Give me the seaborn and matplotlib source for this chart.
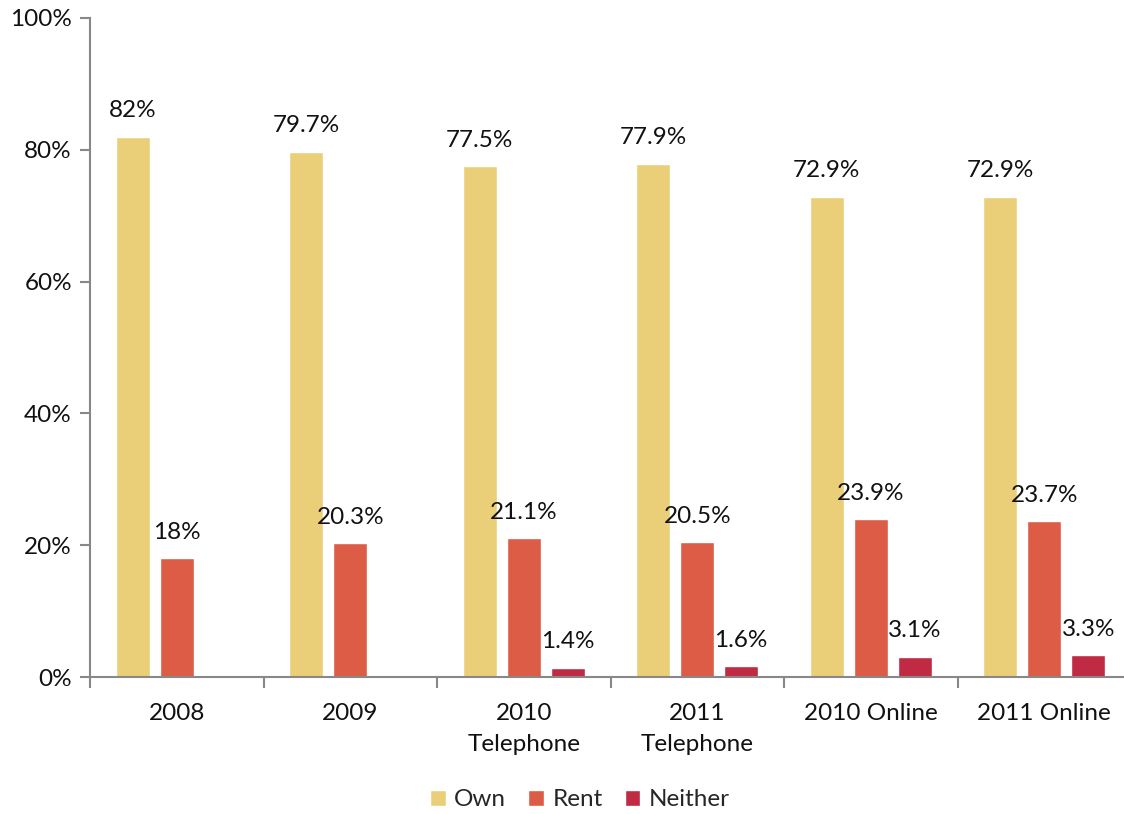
import matplotlib
matplotlib.use("Agg")
import matplotlib.pyplot as plt
import seaborn as sns
import pandas as pd
import numpy as np
from matplotlib.ticker import FixedLocator, PercentFormatter

# Survey waves and housing tenure shares (percent)
categories = ["2008", "2009", "2010\nTelephone", "2011\nTelephone", "2010 Online", "2011 Online"]
own = [82.0, 79.7, 77.5, 77.9, 72.9, 72.9]
rent = [18.0, 20.3, 21.1, 20.5, 23.9, 23.7]
neither = [None, None, 1.4, 1.6, 3.1, 3.3]
value_labels = {
    "Own": ["82%", "79.7%", "77.5%", "77.9%", "72.9%", "72.9%"],
    "Rent": ["18%", "20.3%", "21.1%", "20.5%", "23.9%", "23.7%"],
    "Neither": [None, None, "1.4%", "1.6%", "3.1%", "3.3%"],
}
series = ["Own", "Rent", "Neither"]
colors = ["#EBCF78", "#DC5C45", "#C02A42"]

rows = []
for name, vals in zip(series, [own, rent, neither]):
    for cat, v in zip(categories, vals):
        if v is not None:
            rows.append({"wave": cat, "tenure": name, "pct": v})
df = pd.DataFrame(rows)

sns.set_style("white")
plt.rcParams["font.family"] = ["Lato", "DejaVu Sans"]
FS = 17.5

fig = plt.figure(figsize=(11.24, 8.14), dpi=100)
W, H = 1124, 814
ax = fig.add_axes([90 / W, 137 / H, 1041 / W, 659 / H])

sns.barplot(data=df, x="wave", y="pct", hue="tenure", order=categories,
            hue_order=series, palette=colors, width=0.76, gap=0.226,
            saturation=1, ax=ax, legend=True)

ax.set_xlim(-0.5, 5.5)
ax.set_ylim(0, 100)
ax.set_xlabel("")
ax.set_ylabel("")

# Value labels above each bar
for name, container in zip(series, ax.containers):
    labels = [l for l in value_labels[name] if l is not None]
    ax.bar_label(container, labels=labels, padding=11, fontsize=FS, color="#111111")

ax.yaxis.set_major_locator(FixedLocator([0, 20, 40, 60, 80, 100]))
ax.yaxis.set_major_formatter(PercentFormatter(decimals=0))
ax.tick_params(axis="y", which="major", length=7, width=1.5, color="#888888",
               labelsize=FS, pad=6, left=True, labelcolor="#111111")
ax.tick_params(axis="x", which="major", length=0, labelsize=FS, pad=19,
               labelcolor="#111111")
ax.set_xticks(range(len(categories)), labels=categories, fontsize=FS,
              color="#111111")
ax.set_xticks(np.arange(-0.5, 6.0, 1.0), minor=True)
ax.tick_params(axis="x", which="minor", length=8, width=1.5, color="#888888",
               bottom=True)
fig.canvas.draw()
for tick in ax.xaxis.get_major_ticks():
    tick.label1.set_linespacing(1.55)

for side in ["top", "right"]:
    ax.spines[side].set_visible(False)
for side in ["left", "bottom"]:
    ax.spines[side].set_color("#888888")
    ax.spines[side].set_linewidth(1.5)

handles, lbls = ax.get_legend_handles_labels()
ax.legend_.remove()
fig.legend(handles, lbls, loc="center", bbox_to_anchor=(580 / W, 1 - 800 / H),
           ncol=3, frameon=False, fontsize=FS, handlelength=0.65,
           handleheight=0.65, handletextpad=0.35, columnspacing=0.9)

fig.savefig("out.png", dpi=100)
